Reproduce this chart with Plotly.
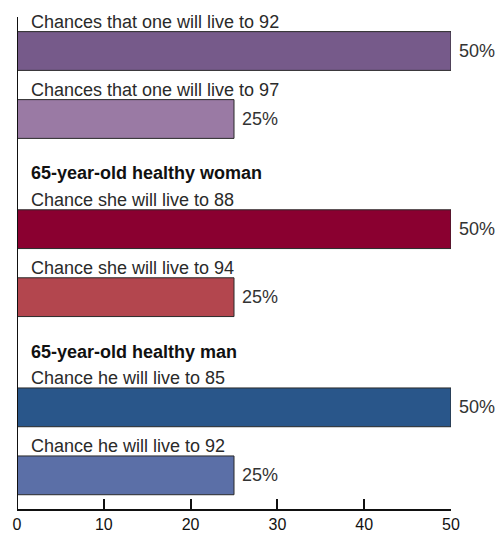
import plotly.graph_objects as go

# Survival odds, grouped by population
groups = ["", "65-year-old healthy woman", "65-year-old healthy man"]
labels = [
    "Chances that one will live to 92",
    "Chances that one will live to 97",
    "Chance she will live to 88",
    "Chance she will live to 94",
    "Chance he will live to 85",
    "Chance he will live to 92",
]
values = [50, 25, 50, 25, 50, 25]
group_of = [0, 0, 1, 1, 2, 2]
colors = ["#765a8a", "#9a7aa4", "#8a0030", "#b3464e", "#29568a", "#5b6fa7"]

GROUP_STEP = 2.62  # vertical distance between groups, in bar slots

# position of each bar: its group offset plus its slot inside the group
pos = []
slot = {}
for g in group_of:
    k = slot.get(g, 0)
    pos.append(g * GROUP_STEP + k)
    slot[g] = k + 1

FONT = "Liberation Sans, Arial, sans-serif"
TXT = "#2a2a2a"
Y_RANGE = [6.735, -0.75]

fig = go.Figure()
fig.add_trace(go.Bar(
    x=values,
    y=pos,
    orientation="h",
    width=0.57,
    marker=dict(color=colors, line=dict(color="#2a2a2a", width=1)),
    hoverinfo="skip",
))

annotations = []
# value labels just right of each bar end
for v, p in zip(values, pos):
    annotations.append(dict(
        x=v, y=p, xref="x", yref="y", text=f"{v}%", showarrow=False,
        xanchor="left", yanchor="middle", xshift=6,
        font=dict(family=FONT, size=18, color="#333333"),
    ))
# bar captions
for lab, p in zip(labels, pos):
    annotations.append(dict(
        x=0, y=p - 0.43, xref="x", yref="y", text=lab, showarrow=False,
        xanchor="left", yanchor="middle", xshift=12,
        font=dict(family=FONT, size=18, color=TXT),
    ))
# group headings
for gi, name in enumerate(groups):
    if not name:
        continue
    first = min(p for p, g in zip(pos, group_of) if g == gi)
    annotations.append(dict(
        x=0, y=first - 0.82, xref="x", yref="y", text=f"<b>{name}</b>",
        showarrow=False, xanchor="left", yanchor="middle", xshift=12,
        font=dict(family=FONT, size=18, color="#111111"),
    ))

fig.update_layout(
    width=497, height=535,
    margin=dict(l=17, r=46, t=0, b=26),
    paper_bgcolor="white", plot_bgcolor="white",
    showlegend=False,
    annotations=annotations,
    shapes=[dict(
        type="line", xref="x", yref="y", x0=0, x1=0,
        y0=Y_RANGE[0], y1=-0.5, line=dict(color="#111111", width=2),
    )],
    xaxis=dict(
        range=[0, 50], tickvals=[0, 10, 20, 30, 40, 50],
        showgrid=False, zeroline=False,
        showline=True, linecolor="#111111", linewidth=2,
        ticks="inside", ticklen=10, tickwidth=1.5, tickcolor="#111111",
        tickfont=dict(family=FONT, size=16, color="#111111"),
    ),
    yaxis=dict(
        range=Y_RANGE, showticklabels=False, showgrid=False,
        zeroline=False, showline=False, ticks="",
    ),
)

fig.write_html("out.html")
